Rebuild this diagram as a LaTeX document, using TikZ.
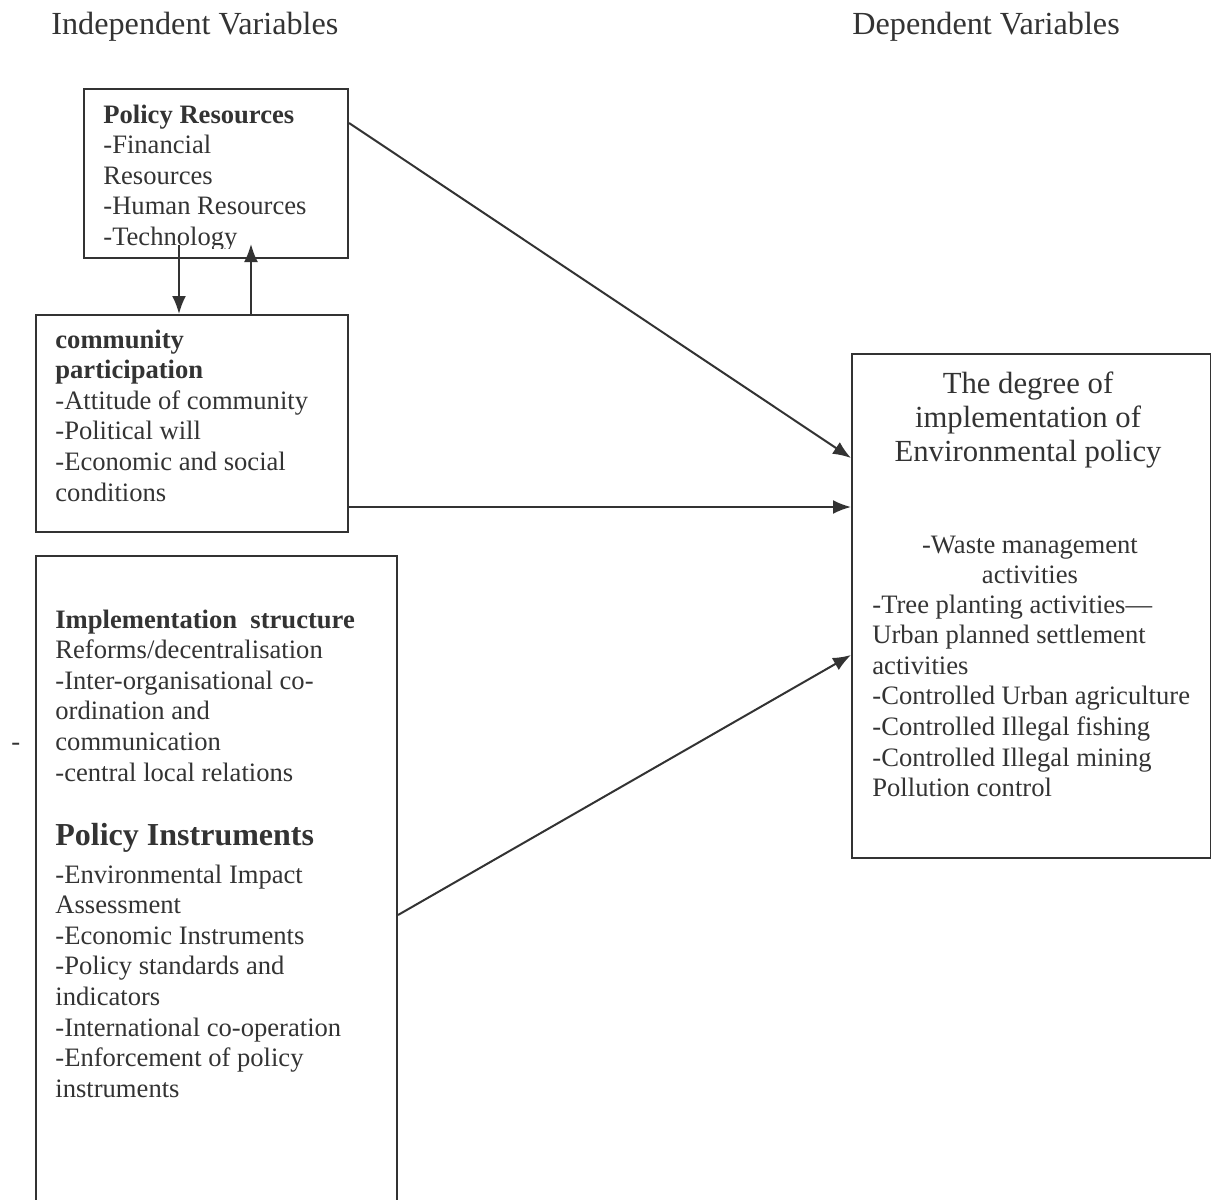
\documentclass[tikz,border=0pt]{standalone}
\usepackage{fontspec}
\setmainfont{Liberation Serif}
\usetikzlibrary{arrows.meta,calc}

\definecolor{ink}{RGB}{51,51,51}
\newcommand{\bodyfont}{\fontsize{13.3}{15.3}\selectfont}
\newcommand{\headfont}{\fontsize{16.1}{18}\selectfont}
\newcommand{\leftlines}[1]{\begin{tabular}[t]{@{}l@{}}#1\end{tabular}}
\newcommand{\midlines}[1]{\begin{tabular}[t]{@{}c@{}}#1\end{tabular}}

\begin{document}
\begin{tikzpicture}[x=0.5pt,y=-0.5pt,>={Latex[length=9pt,width=7pt]},
	box/.style={draw=ink,line width=1pt,rectangle,inner sep=0pt,anchor=north west},
	txt/.style={anchor=base west,inner sep=0pt,text=ink,font=\bodyfont},
	link/.style={->,draw=ink,line width=1pt}]
	\clip (0,0) rectangle (1211,1200);
	
	\node[txt,font=\headfont] (indep) at (51,34) {Independent Variables};
	\node[txt,font=\headfont] (dep) at (852,34) {Dependent Variables};
	
	\node[box,minimum width=132pt,minimum height=84.5pt] (res) at (83,88) {};
	\node[box,minimum width=156pt,minimum height=108.5pt] (comm) at (35,314) {};
	\node[box,minimum width=180.5pt,minimum height=335pt] (impl) at (35,555) {};
	\node[box,minimum width=179.5pt,minimum height=252pt] (degree) at (851,353) {};
	
	\begin{scope}
		\clip (83,88) rectangle (347,248);
		\node[txt] (resTxt) at (103,123) {\leftlines{\textbf{Policy Resources}\\-Financial\\Resources\\-Human Resources\\-Technology}};
	\end{scope}
	
	\node[txt] (commTxt) at (55,348) {\leftlines{\textbf{community}\\\textbf{participation}\\-Attitude of community\\-Political will\\-Economic and social\\conditions}};
	
	\node[txt] (implTxt) at (55,628) {\leftlines{\textbf{Implementation\ \ structure}\\Reforms/decentralisation\\-Inter-organisational co-\\ordination and\\communication\\-central local relations}};
	\node[txt,font=\fontsize{16}{18}\selectfont\bfseries] (instrHead) at (55,845) {Policy Instruments};
	\node[txt] (instrTxt) at (55,883) {\leftlines{-Environmental Impact\\Assessment\\-Economic Instruments\\-Policy standards and\\indicators\\-International co-operation\\-Enforcement of policy\\instruments}};
	\node[txt] (dash) at (11,750) {-};
	
	\node[txt,anchor=base,font=\fontsize{15.35}{17}\selectfont] (degreeTitle) at (1028,393) {\midlines{The degree of\\implementation of\\Environmental policy}};
	\node[txt,anchor=base] (waste) at (1030,553) {\midlines{-Waste management\\activities}};
	\node[txt] (degreeTxt) at (872,613) {\leftlines{-Tree planting activities---\\Urban planned settlement\\activities\\-Controlled Urban agriculture\\-Controlled Illegal fishing\\-Controlled Illegal mining\\Pollution control}};
	
	\draw[link] ($(res.south west)+(96,-14)$) coordinate (down) -- (down |- comm.north);
	\draw[link] ($(comm.north west)+(216,0)$) coordinate (up) -- ++(0,-70);
	
	\draw[link] ($(res.north east)+(0,35)$) -- ($(degree.north west)+(0,105)$);
	\draw[link] ($(comm.north east)+(0,193)$) -- ($(degree.north west)+(0,154)$);
	\draw[link] ($(impl.north east)+(0,360)$) -- ($(degree.north west)+(0,302)$);
\end{tikzpicture}
\end{document}
